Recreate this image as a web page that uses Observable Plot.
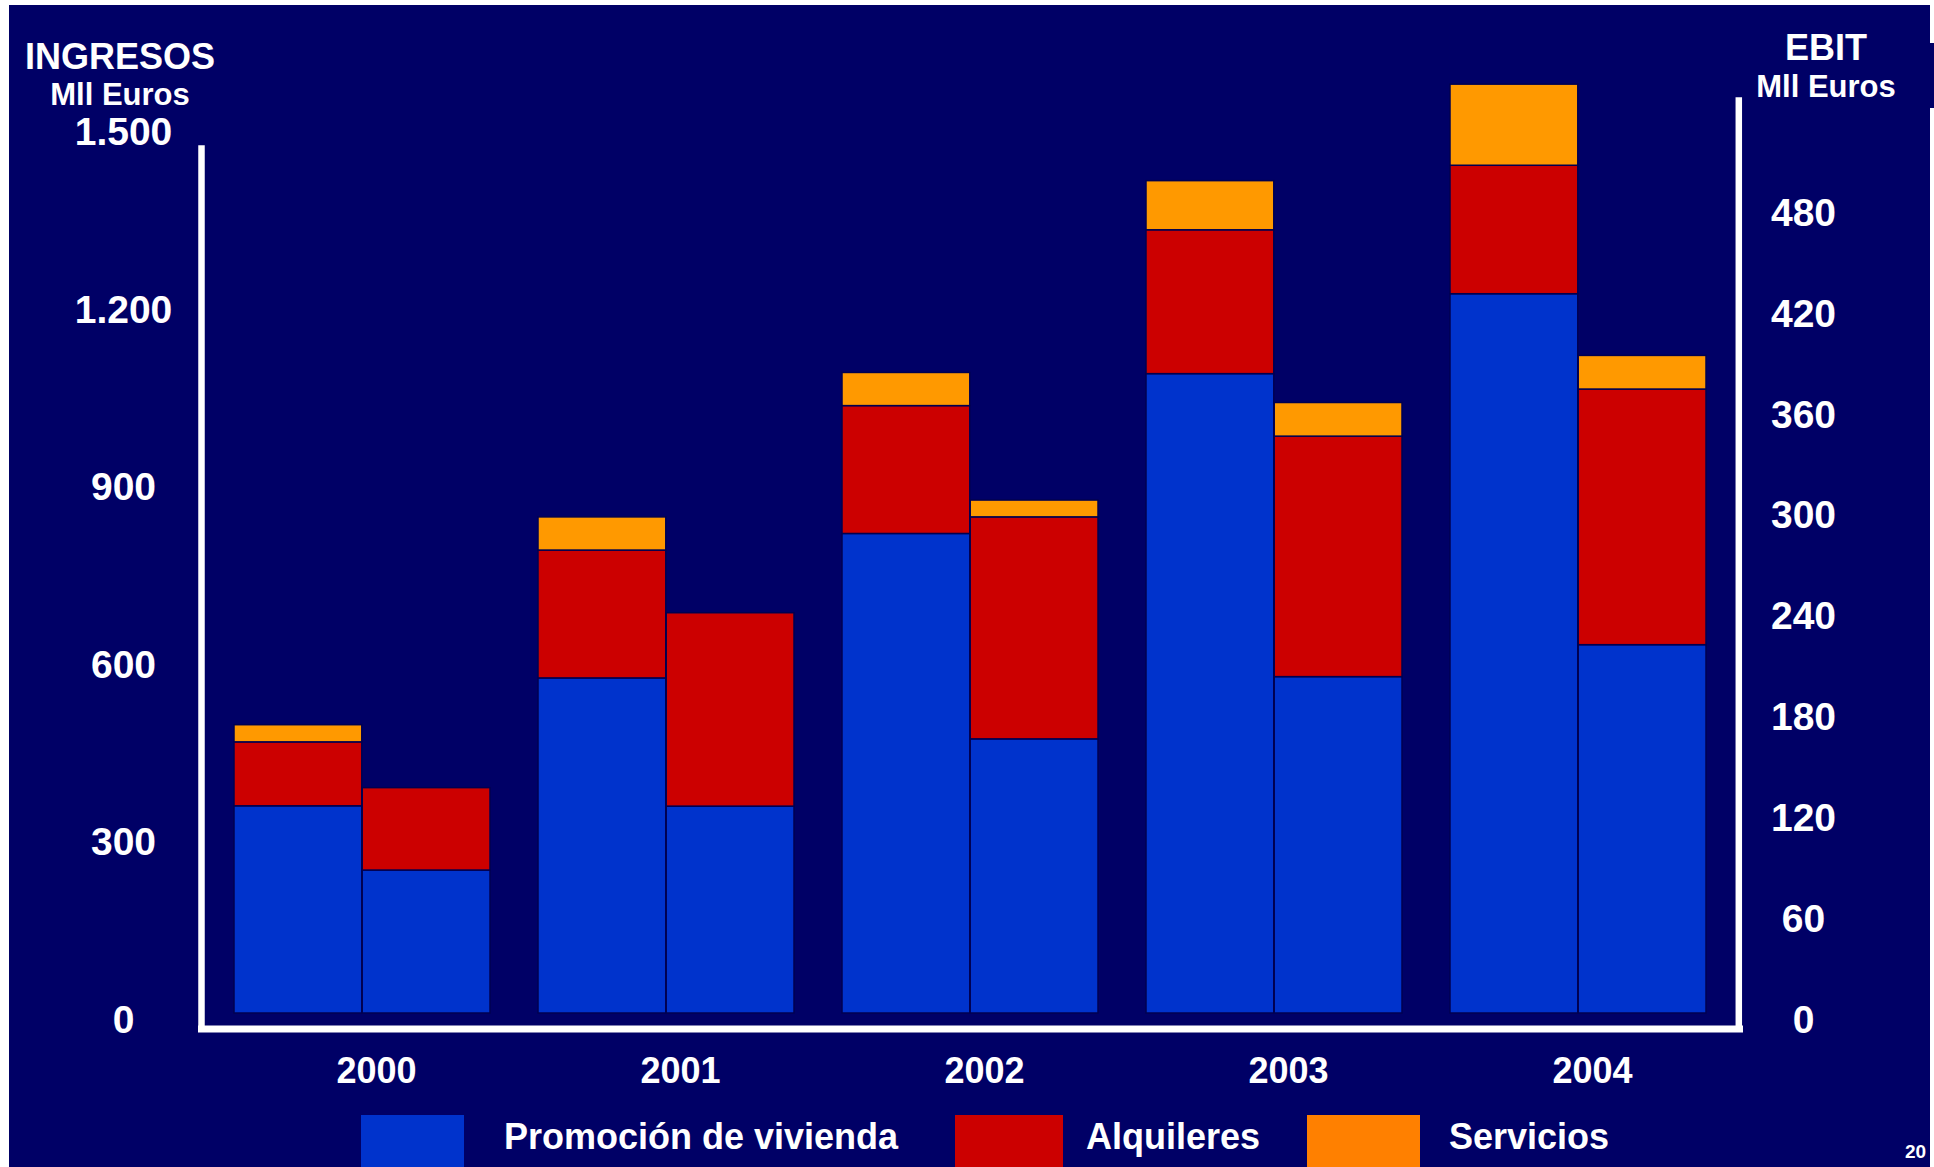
<!DOCTYPE html>
<html lang="es">
<head>
<meta charset="utf-8">
<title>Ingresos y EBIT 2000–2004</title>
<script src="https://cdn.jsdelivr.net/npm/d3@7"></script>
<script src="https://cdn.jsdelivr.net/npm/@observablehq/plot@0.6"></script>
<style>
  html, body { margin: 0; padding: 0; background: #ffffff; }
  body { width: 1934px; height: 1167px; position: relative; overflow: hidden;
         font-family: "Liberation Sans", Arial, Helvetica, sans-serif; font-weight: bold; color: #ffffff; }
  .panel { position: absolute; background: #000066; }
  .txt { position: absolute; line-height: 1; white-space: nowrap; }
  .title { line-height: 0.8; }
  .center { transform: translateX(-50%); text-align: center; }
  .swatch { position: absolute; }
  #chart { position: absolute; left: 0; top: 0; }
</style>
</head>
<body>
<div class="panel" style="left:9px; top:5px; width:1921px; height:1162px;"></div>
<div class="panel" style="left:1930px; top:43px; width:4px; height:65px;"></div>

<div class="txt title center" style="left:120px; top:43px; font-size:36px;">INGRESOS</div>
<div class="txt title center" style="left:120px; top:83px; font-size:31px;">Mll Euros</div>
<div class="txt title center" style="left:1826px; top:34px; font-size:36px;">EBIT</div>
<div class="txt title center" style="left:1826px; top:75px; font-size:31px;">Mll Euros</div>

<div id="chart"></div>
<div id="legend"></div>
<div class="txt" style="left:1905px; top:1142px; font-size:19px;">20</div>

<script>
// Years and series
const years = ["2000", "2001", "2002", "2003", "2004"];
const series = ["Promoción de vivienda", "Alquileres", "Servicios"];

// Ingresos (Mll Euros), by activity
const ingresosPromocion  = [350, 566, 810, 1080, 1215];
const ingresosAlquileres = [108, 216, 216, 243, 217];
const ingresosServicios  = [29, 56, 56, 83, 137];

// EBIT (Mll Euros), by activity
const ebitPromocion  = [85, 123, 163, 200, 219];
const ebitAlquileres = [49, 115, 132, 143, 152];
const ebitServicios  = [0, 0, 10, 20, 20];

// Axis ticks
const ingresosTicks = [0, 300, 600, 900, 1200, 1500];
const ebitTicks = [0, 60, 120, 180, 240, 300, 360, 420, 480];

// Colours
const barColors = ["#0033CC", "#CC0000", "#FF9900"];
const legendColors = ["#0033CC", "#CC0000", "#FF8000"];

// Tidy rows for the stacked bars
function rows(arrays) {
  const out = [];
  years.forEach((year, i) => {
    series.forEach((serie, j) => {
      const value = arrays[j][i];
      if (value > 0) out.push({year, serie, value});
    });
  });
  return out;
}
const ingresos = rows([ingresosPromocion, ingresosAlquileres, ingresosServicios]);
const ebit = rows([ebitPromocion, ebitAlquileres, ebitServicios]);

// The EBIT axis shares the vertical space: 1.500 Mll on the left equals 528 Mll on the right
const ingresosMax = 1500;
const ebitMax = 528;
const k = ingresosMax / ebitMax;

// Layout of the plot frame
const width = 1934, height = 1100;
const marginLeft = 205, marginRight = 198, marginTop = 125, marginBottom = 87;
const paddingInner = 0.1565, paddingOuter = 0.0963;

// Half of a year band: ingresos on the left half, EBIT on the right half
const band = d3.scaleBand(years, [marginLeft, width - marginRight])
  .paddingInner(paddingInner).paddingOuter(paddingOuter);
const half = band.bandwidth() / 2;

const fmtES = d3.formatLocale({decimal: ",", thousands: ".", grouping: [3], currency: ["", " €"]}).format(",d");

const barStyle = {stroke: "#000050", strokeWidth: 1.5};

const plot = Plot.plot({
  width, height, marginLeft, marginRight, marginTop, marginBottom,
  style: {background: "transparent", color: "white", fontFamily: "'Liberation Sans', Arial, sans-serif", overflow: "visible"},
  x: {domain: years, paddingInner, paddingOuter},
  y: {domain: [0, ingresosMax]},
  color: {domain: series, range: barColors},
  marks: [
    Plot.barY(ingresos, {x: "year", y: "value", fill: "serie", insetRight: half, ...barStyle}),
    Plot.barY(ebit, {x: "year", y: d => d.value * k, fill: "serie", insetLeft: half, ...barStyle}),
    Plot.frame({anchor: "left", stroke: "white", strokeWidth: 6.5, dx: -4, dy: 15, insetTop: 8}),
    Plot.frame({anchor: "right", stroke: "white", strokeWidth: 6.5, dx: 2.3, dy: 15, insetTop: -40}),
    Plot.frame({anchor: "bottom", stroke: "white", strokeWidth: 7, dy: 15.5, insetLeft: -4, insetRight: -3}),
    Plot.axisY(ingresosTicks, {
      anchor: "left", tickSize: 0, tickPadding: 0, textAnchor: "middle", dx: -82, dy: 7,
      fontSize: 39, fontWeight: "bold", tickFormat: fmtES, label: null
    }),
    Plot.axisY(ebitTicks.map(t => t * k), {
      anchor: "right", tickSize: 0, tickPadding: 0, textAnchor: "middle", dx: 67, dy: 7,
      fontSize: 39, fontWeight: "bold", tickFormat: d => String(Math.round(d / k)), label: null
    }),
    Plot.axisX({
      anchor: "bottom", tickSize: 0, tickPadding: 0, lineAnchor: "middle", dx: 14, dy: 58,
      fontSize: 36, fontWeight: "bold", label: null
    })
  ]
});
document.getElementById("chart").appendChild(plot);

// Legend below the chart
const legend = document.getElementById("legend");
const legendLayout = [
  {swatchLeft: 361, swatchWidth: 103, textLeft: 504},
  {swatchLeft: 955, swatchWidth: 108, textLeft: 1086},
  {swatchLeft: 1307, swatchWidth: 113, textLeft: 1449}
];
series.forEach((name, i) => {
  const s = document.createElement("div");
  s.className = "swatch";
  s.style.cssText = `left:${legendLayout[i].swatchLeft}px; top:1115px; width:${legendLayout[i].swatchWidth}px; height:52px; background:${legendColors[i]};`;
  legend.appendChild(s);
  const t = document.createElement("div");
  t.className = "txt";
  t.style.cssText = `left:${legendLayout[i].textLeft}px; top:1119px; font-size:36px;`;
  t.textContent = name;
  legend.appendChild(t);
});
</script>
</body>
</html>
